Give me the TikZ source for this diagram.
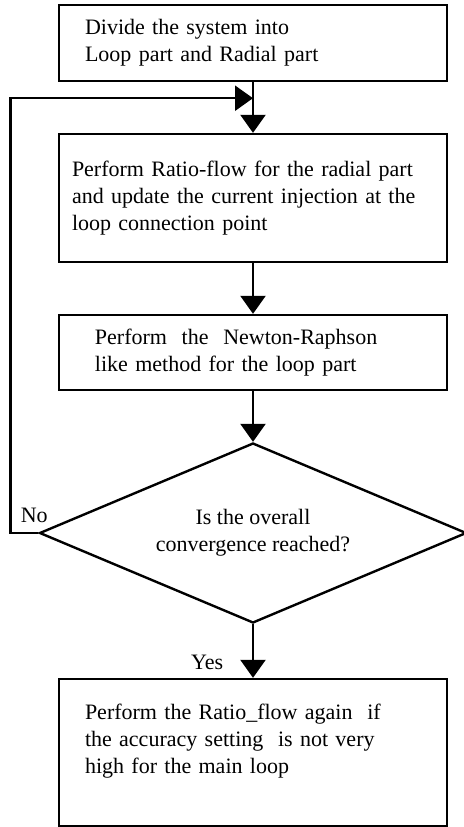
\documentclass[tikz,border=0pt]{standalone}
\usepackage{fontspec}
\setmainfont{Liberation Serif}
\usetikzlibrary{arrows.meta, positioning, shapes.geometric}

\begin{document}
\begin{tikzpicture}[
    node distance=25.3pt,
    font=\fontsize{11}{13.5}\selectfont,
    stepbox/.style={rectangle, draw, line width=1.2pt, minimum width=194pt, align=left},
    decision/.style={diamond, draw, line width=1.2pt, shape aspect=2.4, minimum width=213.5pt, minimum height=90pt, inner sep=0pt, align=center},
    arrow/.style={-{Triangle[length=9pt, width=12.5pt]}, line width=1.2pt}
]
    \useasboundingbox (0,0) rectangle (231.5pt,-413.5pt);

    % --- Main Flow Column ---

    % Step 1
    \node[stepbox, minimum height=38pt, inner xsep=13pt, text width=168pt] (divide) at (126.5pt,-21.5pt)
        {Divide the system into\\Loop part and Radial part};

    % Loop return point
    \coordinate[below=8pt of divide] (merge);

    % Step 2
    \node[stepbox, below=of divide, minimum height=64pt, inner xsep=6.5pt, text width=181pt] (ratio)
        {Perform Ratio-flow for the radial part\\and update the current injection at the\\loop connection point};

    % Step 3
    \node[stepbox, below=of ratio, minimum height=37.5pt, inner xsep=18pt, text width=158pt] (newton)
        {Perform\ \ the\ \ Newton-Raphson\\like method for the loop part};

    % Convergence check
    \node[decision, below=of newton] (conv) {Is the overall\\convergence reached?};

    % Final step
    \node[stepbox, below=26.8pt of conv, minimum height=73.5pt, inner xsep=13pt, text width=168pt] (again)
        {Perform the Ratio\_flow again\ \ if\\the accuracy setting\ \ is not very\\high for the main loop\\ \mbox{}};

    % --- Connections ---
    \draw[arrow] (divide) -- (ratio);
    \draw[arrow] (ratio) -- (newton);
    \draw[arrow] (newton) -- (conv);
    \draw[arrow] (conv) -- node[pos=0.72, left=11pt] {Yes} (again);

    % Back to the radial part
    \draw[arrow] (conv.west) node[above=1pt, xshift=-2pt] {No} -- ++(-14pt,0) |- (merge);

\end{tikzpicture}
\end{document}
